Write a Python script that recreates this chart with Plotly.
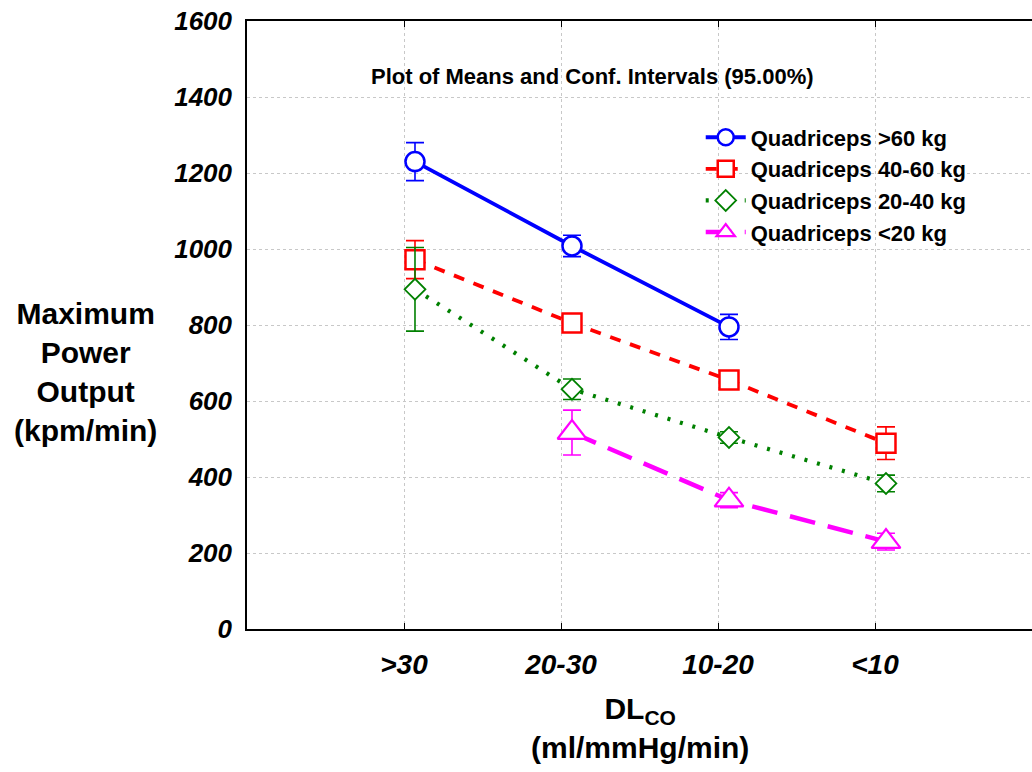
import plotly.graph_objects as go

# ---- data ----
categories = [">30", "20-30", "10-20", "<10"]
x_offset = 0.07  # markers drawn slightly right of category tick

series_names = ["Quadriceps >60 kg", "Quadriceps 40-60 kg",
                "Quadriceps 20-40 kg", "Quadriceps <20 kg"]
q60_mean = [1230, 1008, 795, None]
q60_ci = [50, 28, 33, None]
q4060_mean = [972, 805, 655, 489]
q4060_ci = [50, 20, 20, 43]
q2040_mean = [894, 631, 504, 383]
q2040_ci = [110, 27, 15, 22]
q20_mean = [None, 517, 339, 230]
q20_ci = [None, 59, 20, 22]

y_ticks = [0, 200, 400, 600, 800, 1000, 1200, 1400, 1600]

FONT = "Liberation Sans, Arial, sans-serif"

styles = [
    dict(color="#0000ff", symbol="circle", size=19, mlw=2.5, width=3.8, dash="solid"),
    dict(color="#ff0000", symbol="square", size=19, mlw=2.5, width=3.8, dash="11px,10px"),
    dict(color="#008000", symbol="diamond", size=16, mlw=1.8, width=4.2, dash="3px,10px"),
    dict(color="#ff00ff", symbol="triangle-up", size=25, mlw=2.2, width=4.5, dash="26px,13px"),
]
means = [q60_mean, q4060_mean, q2040_mean, q20_mean]
cis = [q60_ci, q4060_ci, q2040_ci, q20_ci]

xpos = [i + 1 + x_offset for i in range(len(categories))]

fig = go.Figure()
for name, m, ci, st in zip(series_names, means, cis, styles):
    xs = [x for x, v in zip(xpos, m) if v is not None]
    ys = [v for v in m if v is not None]
    es = [e for e in ci if e is not None]
    fig.add_trace(go.Scatter(
        x=xs, y=ys, name=name, mode="lines+markers",
        line=dict(color=st["color"], width=st["width"], dash=st["dash"]),
        marker=dict(symbol=st["symbol"], size=st["size"], color="white",
                    line=dict(color=st["color"], width=st["mlw"])),
        error_y=dict(type="data", array=es, visible=True, color=st["color"],
                     thickness=1.6, width=9),
    ))

fig.update_layout(
    width=1032, height=772,
    margin=dict(l=247, r=0, t=21, b=143),
    paper_bgcolor="white", plot_bgcolor="white",
    showlegend=True,
    legend=dict(x=0.578, y=0.843, xanchor="left", yanchor="top",
                bgcolor="rgba(0,0,0,0)",
                font=dict(family=FONT, size=22, color="black", weight="bold"),
                itemwidth=40, tracegroupgap=0),
    font=dict(family=FONT, color="black"),
)

fig.update_xaxes(
    range=[0, 5], tickvals=[i + 1 for i in range(len(categories))],
    ticktext=categories,
    showline=True, linecolor="black", linewidth=1.5, mirror="ticks",
    ticks="inside", ticklen=6, tickwidth=1.2, tickcolor="black",
    showgrid=True, gridcolor="#c8c8c8", gridwidth=1, griddash="dot",
    zeroline=False,
    tickfont=dict(family=FONT, size=28, color="black", weight="bold", style="italic"),
    ticklabelstandoff=10,
)
fig.update_yaxes(
    range=[0, 1600], tickvals=y_ticks,
    showline=True, linecolor="black", linewidth=1.5, mirror=False,
    ticks="", showgrid=True, gridcolor="#c8c8c8", gridwidth=1, griddash="dot",
    zeroline=False,
    tickfont=dict(family=FONT, size=26, color="black", weight="bold", style="italic"),
    ticklabelstandoff=8,
)

fig.add_annotation(
    text="Plot of Means and Conf. Intervals (95.00%)",
    xref="paper", yref="paper", x=0.44, y=0.909, xanchor="center", yanchor="middle",
    showarrow=False, font=dict(family=FONT, size=22, color="black", weight="bold"),
)
fig.add_annotation(
    text="Maximum<br>Power<br>Output<br>(kpm/min)",
    xref="paper", yref="paper", x=(85 - 247) / 785, y=0.423,
    xanchor="center", yanchor="middle", align="center", showarrow=False,
    font=dict(family=FONT, size=30, color="black", weight="bold"),
)
fig.add_annotation(
    text="DL<sub>CO</sub><br>(ml/mmHg/min)",
    xref="paper", yref="paper", x=0.5, y=-0.1,
    xanchor="center", yanchor="top", align="center", showarrow=False,
    font=dict(family=FONT, size=30, color="black", weight="bold"),
)

fig.write_html("out.html")
